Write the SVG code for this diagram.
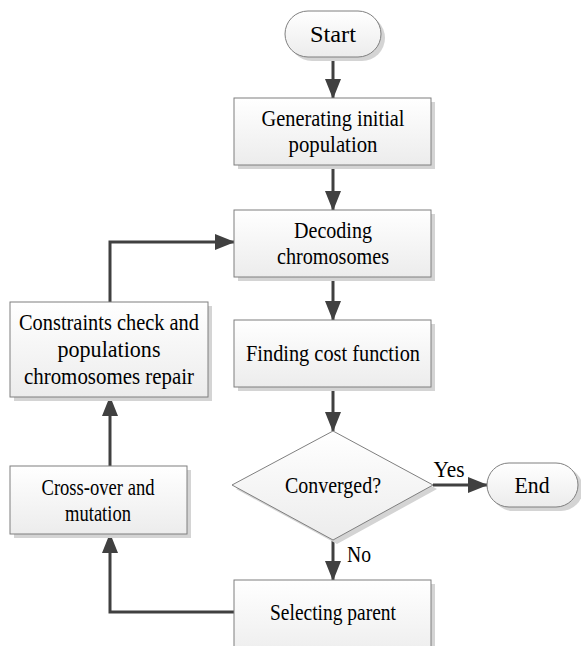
<svg xmlns="http://www.w3.org/2000/svg" width="581" height="646" viewBox="0 0 581 646" font-family="Liberation Serif, DejaVu Serif, serif" font-size="23" text-anchor="middle">
<defs>
<linearGradient id="g" x1="0" y1="0" x2="0" y2="1">
<stop offset="0" stop-color="#ffffff"/>
<stop offset="1" stop-color="#ececec"/>
</linearGradient>
<marker id="ah" viewBox="0 0 20 16" markerUnits="userSpaceOnUse" markerWidth="20" markerHeight="16" refX="19" refY="8" orient="auto">
<path d="M0,0 L20,8 L0,16 z" fill="#404040"/>
</marker>
</defs>
<style>
.sh{fill:#d4d4d4}
.bx{fill:url(#g);stroke:#7f7f7f;stroke-width:1}
.c{fill:none;stroke:#404040;stroke-width:3}
</style>
<rect width="581" height="646" fill="#fff"/>
<g id="connectors">
<line class="c" x1="333" y1="57" x2="333" y2="98" marker-end="url(#ah)"/>
<line class="c" x1="333" y1="165" x2="333" y2="210" marker-end="url(#ah)"/>
<line class="c" x1="333" y1="277" x2="333" y2="320" marker-end="url(#ah)"/>
<line class="c" x1="333" y1="387" x2="333" y2="431" marker-end="url(#ah)"/>
<line class="c" x1="433" y1="485" x2="487" y2="485" marker-end="url(#ah)"/>
<line class="c" x1="333" y1="540" x2="333" y2="580" marker-end="url(#ah)"/>
<polyline class="c" points="234,612 110,612 110,534" marker-end="url(#ah)"/>
<line class="c" x1="110" y1="466" x2="110" y2="397" marker-end="url(#ah)"/>
<polyline class="c" points="110,302 110,242 234,242" marker-end="url(#ah)"/>
<text x="449" y="477" textLength="31" lengthAdjust="spacingAndGlyphs">Yes</text>
<text x="359" y="562" textLength="24" lengthAdjust="spacingAndGlyphs">No</text>
</g>
<g id="start">
<rect class="sh" x="289" y="15" width="96" height="46" rx="23"/>
<rect class="bx" x="285" y="11" width="96" height="46" rx="23"/>
<text x="333" y="42" textLength="46" lengthAdjust="spacingAndGlyphs">Start</text>
</g>
<g id="generate">
<rect class="sh" x="238" y="102" width="197" height="67"/>
<rect class="bx" x="234" y="98" width="197" height="67"/>
<text x="333" y="126" textLength="143" lengthAdjust="spacingAndGlyphs">Generating initial</text>
<text x="333" y="152" textLength="89" lengthAdjust="spacingAndGlyphs">population</text>
</g>
<g id="decode">
<rect class="sh" x="238" y="214" width="197" height="67"/>
<rect class="bx" x="234" y="210" width="197" height="67"/>
<text x="333" y="238" textLength="78" lengthAdjust="spacingAndGlyphs">Decoding</text>
<text x="333" y="264" textLength="112" lengthAdjust="spacingAndGlyphs">chromosomes</text>
</g>
<g id="cost">
<rect class="sh" x="238" y="324" width="197" height="67"/>
<rect class="bx" x="234" y="320" width="197" height="67"/>
<text x="333" y="361" textLength="174" lengthAdjust="spacingAndGlyphs">Finding cost function</text>
</g>
<g id="converged">
<polygon class="sh" points="337,435 437,489 337,544 236,489"/>
<polygon class="bx" points="333,431 433,485 333,540 232,485"/>
<text x="333" y="493" textLength="96" lengthAdjust="spacingAndGlyphs">Converged?</text>
</g>
<g id="end">
<rect class="sh" x="491" y="467" width="92" height="44" rx="22"/>
<rect class="bx" x="487" y="463" width="91" height="44" rx="22"/>
<text x="532" y="493" textLength="35" lengthAdjust="spacingAndGlyphs">End</text>
</g>
<g id="select">
<rect class="sh" x="238" y="584" width="197" height="80"/>
<rect class="bx" x="234" y="580" width="197" height="80"/>
<text x="333" y="620" textLength="126" lengthAdjust="spacingAndGlyphs">Selecting parent</text>
</g>
<g id="crossover">
<rect class="sh" x="14" y="470" width="177" height="68"/>
<rect class="bx" x="10" y="466" width="177" height="68"/>
<text x="98" y="495" textLength="113" lengthAdjust="spacingAndGlyphs">Cross-over and</text>
<text x="98" y="521" textLength="66" lengthAdjust="spacingAndGlyphs">mutation</text>
</g>
<g id="constraints">
<rect class="sh" x="14" y="306" width="198" height="95"/>
<rect class="bx" x="10" y="302" width="198" height="95"/>
<text x="109" y="330" textLength="180" lengthAdjust="spacingAndGlyphs">Constraints check and</text>
<text x="109" y="357" textLength="103" lengthAdjust="spacingAndGlyphs">populations</text>
<text x="109" y="384" textLength="170" lengthAdjust="spacingAndGlyphs">chromosomes repair</text>
</g>
</svg>
